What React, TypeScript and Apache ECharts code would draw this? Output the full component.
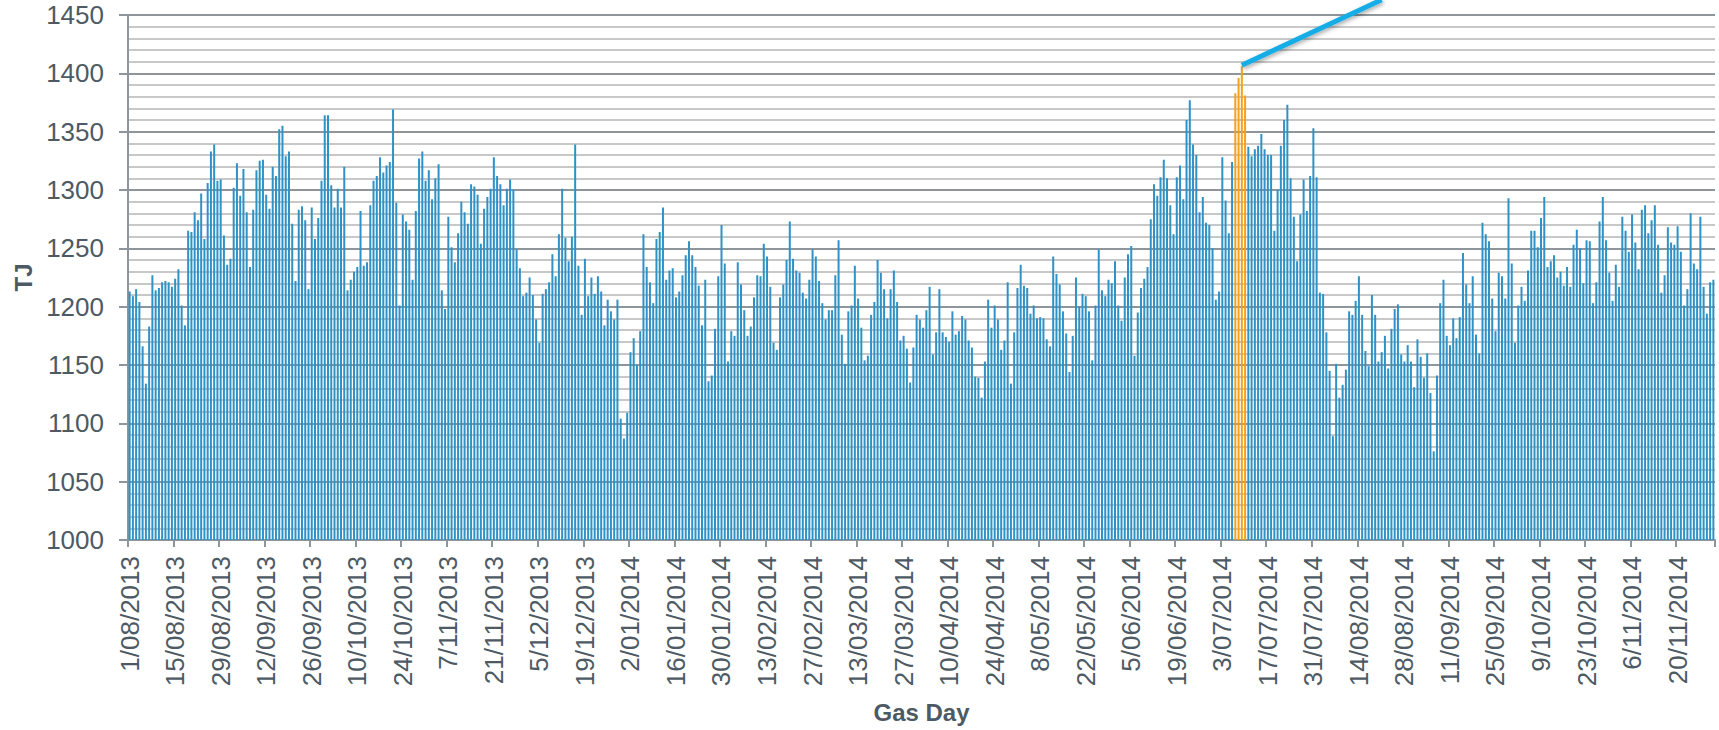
import React, { useEffect, useRef } from "react";
import * as echarts from "echarts";

// Daily gas demand (TJ), one array per month, starting 1/08/2013
const startYear = 2013;
const startMonth = 8; // August
const aug2013 = [1213,1209,1215,1204,1166,1134,1183,1227,1214,1216,1221,1222,1221,1217,1224,1232,1201,1184,1265,1264,1281,1274,1297,1258,1306,1333,1339,1308,1309,1261,1236];
const sep2013 = [1241,1302,1323,1295,1318,1281,1234,1283,1317,1325,1326,1296,1284,1320,1312,1352,1355,1329,1333,1271,1222,1283,1286,1274,1215,1285,1258,1276,1308,1364];
const oct2013 = [1364,1304,1285,1301,1285,1320,1214,1223,1230,1234,1282,1235,1238,1287,1308,1312,1328,1315,1321,1324,1369,1289,1201,1279,1273,1266,1223,1282,1327,1333,1308];
const nov2013 = [1317,1292,1310,1322,1214,1198,1277,1251,1238,1263,1290,1281,1271,1305,1303,1296,1254,1284,1294,1301,1328,1312,1305,1287,1301,1309,1300,1249,1233,1209];
const dec2013 = [1212,1225,1210,1189,1169,1211,1215,1221,1245,1226,1262,1301,1259,1239,1260,1339,1235,1193,1241,1209,1225,1211,1226,1213,1184,1206,1196,1189,1206,1104,1087];
const jan2014 = [1109,1161,1173,1150,1179,1262,1234,1221,1203,1258,1264,1285,1223,1231,1233,1208,1213,1227,1244,1256,1244,1234,1218,1184,1223,1136,1141,1181,1226,1270,1237];
const feb2014 = [1153,1179,1175,1238,1219,1197,1175,1183,1208,1227,1226,1254,1243,1217,1169,1163,1208,1219,1240,1273,1241,1231,1229,1212,1207,1223,1249,1243];
const mar2014 = [1222,1203,1189,1197,1197,1227,1257,1176,1151,1196,1201,1235,1207,1182,1154,1158,1193,1204,1240,1229,1215,1190,1215,1231,1204,1171,1175,1164,1135,1165,1193];
const apr2014 = [1189,1182,1197,1217,1159,1178,1215,1178,1174,1170,1196,1176,1179,1192,1189,1171,1165,1140,1139,1122,1153,1206,1182,1201,1189,1163,1171,1221,1134,1178];
const may2014 = [1216,1236,1218,1216,1194,1201,1190,1191,1190,1172,1166,1243,1228,1219,1196,1177,1144,1175,1225,1200,1211,1209,1196,1154,1201,1249,1214,1209,1223,1220,1239];
const jun2014 = [1201,1188,1225,1245,1252,1158,1195,1216,1224,1234,1275,1305,1295,1311,1326,1310,1287,1262,1311,1321,1292,1360,1377,1339,1330,1281,1294,1272,1270,1250];
const jul2014 = [1206,1213,1328,1291,1263,1324,1383,1396,1406,1381,1337,1329,1335,1338,1348,1335,1330,1330,1265,1300,1338,1360,1373,1310,1277,1239,1279,1309,1282,1312,1353];
const aug2014 = [1311,1212,1211,1178,1145,1089,1151,1122,1133,1146,1196,1193,1205,1226,1193,1162,1149,1210,1193,1153,1161,1175,1147,1181,1198,1202,1159,1153,1167,1153,1131];
const sep2014 = [1172,1157,1139,1160,1126,1076,1141,1203,1223,1175,1167,1190,1173,1191,1246,1219,1203,1226,1176,1160,1272,1262,1256,1207,1179,1229,1226,1207,1293,1237];
const oct2014 = [1169,1201,1217,1205,1231,1265,1265,1251,1276,1294,1234,1239,1244,1225,1230,1218,1234,1217,1253,1266,1250,1220,1257,1256,1203,1221,1273,1294,1257,1229,1205];
const nov2014 = [1236,1217,1277,1265,1247,1279,1255,1232,1283,1287,1263,1274,1287,1253,1212,1227,1268,1255,1253,1269,1247,1201,1215,1280,1237,1232,1277,1217,1194,1221];
const dec2014 = [1223];

const monthlyValues = [aug2013, sep2013, oct2013, nov2013, dec2013, jan2014, feb2014, mar2014, apr2014, may2014, jun2014, jul2014, aug2014, sep2014, oct2014, nov2014, dec2014];

// Highlighted (peak) days and the callout line
const highlightDays = ["7/07/2014", "8/07/2014", "9/07/2014", "10/07/2014"];
const calloutStart: [string, number] = ["9/07/2014", 1407];
const calloutEnd: [string, number] = ["21/08/2014", 1463];

const yMin = 1000;
const yMax = 1450;
const yStep = 50;
const labelEvery = 14;

const FONT = "'Liberation Sans', Arial, Helvetica, sans-serif";
const TEXT = "#4d5a64";
const AXIS = "#8e969b";

function buildDays(): string[] {
  const out: string[] = [];
  let y = startYear;
  let m = startMonth;
  monthlyValues.forEach((arr) => {
    arr.forEach((_, i) => {
      out.push(`${i + 1}/${String(m).padStart(2, "0")}/${y}`);
    });
    m += 1;
    if (m > 12) {
      m = 1;
      y += 1;
    }
  });
  return out;
}

export default function App() {
  const ref = useRef<HTMLDivElement>(null);

  useEffect(() => {
    document.body.style.margin = "0";
    document.body.style.overflow = "hidden";
    if (!ref.current) return;
    const chart = echarts.init(ref.current, undefined, { renderer: "svg" });

    const days = buildDays();
    const values = monthlyValues.flat();
    const barData = values.map((v, i) =>
      highlightDays.includes(days[i])
        ? { value: v, itemStyle: { color: "#f4a11c" } }
        : v
    );

    chart.setOption({
      animation: false,
      backgroundColor: "#ffffff",
      grid: { left: 128, right: 4, top: 15, bottom: 190, containLabel: false },
      xAxis: {
        type: "category",
        data: days,
        boundaryGap: true,
        axisLine: { show: true, lineStyle: { color: AXIS, width: 2 } },
        axisTick: {
          show: true,
          interval: labelEvery - 1,
          length: 7,
          lineStyle: { color: AXIS, width: 2 },
        },
        axisLabel: {
          interval: labelEvery - 1,
          rotate: 90,
          margin: 16,
          fontSize: 26,
          color: TEXT,
          fontFamily: FONT,
        },
        splitLine: { show: false },
        name: "Gas Day",
        nameLocation: "middle",
        nameGap: 160,
        nameTextStyle: { fontSize: 24, fontWeight: "bold", color: TEXT, fontFamily: FONT },
      },
      yAxis: {
        type: "value",
        min: yMin,
        max: yMax,
        interval: yStep,
        axisLine: { show: true, lineStyle: { color: AXIS, width: 2 } },
        axisTick: { show: true, length: 9, lineStyle: { color: AXIS, width: 2 } },
        axisLabel: {
          margin: 24,
          fontSize: 26,
          color: TEXT,
          fontFamily: FONT,
          formatter: (v: number) => String(v),
        },
        splitLine: { show: true, lineStyle: { color: AXIS, width: 2 } },
        minorTick: { show: false, splitNumber: 5 },
        minorSplitLine: { show: true, lineStyle: { color: "#c8c8c8", width: 2 } },
        name: "TJ",
        nameLocation: "middle",
        nameGap: 88,
        nameTextStyle: { fontSize: 24, fontWeight: "bold", color: TEXT, fontFamily: FONT },
      },
      series: [
        {
          type: "bar",
          data: barData,
          barWidth: 2,
          itemStyle: { color: "#2f92c6" },
          z: 2,
        },
        {
          type: "line",
          data: [calloutStart, calloutEnd],
          symbol: "none",
          clip: false,
          silent: true,
          z: 5,
          lineStyle: {
            color: "#19ade6",
            width: 5,
            shadowBlur: 4,
            shadowColor: "rgba(0,0,0,0.35)",
            shadowOffsetX: 1,
            shadowOffsetY: 2,
          },
        },
      ],
    });

    return () => chart.dispose();
  }, []);

  return <div ref={ref} style={{ width: 1719, height: 730 }} />;
}
